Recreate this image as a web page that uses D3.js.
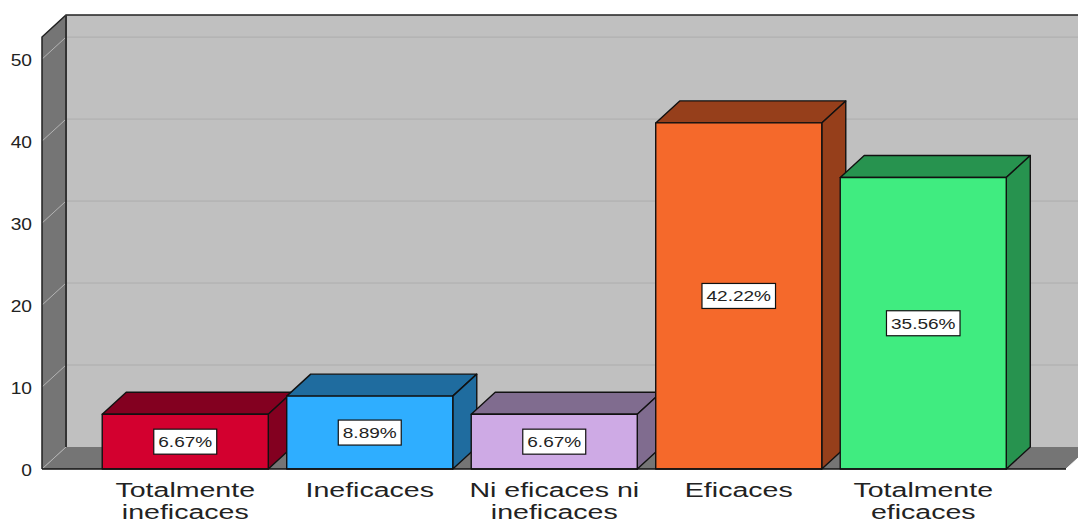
<!DOCTYPE html>
<html>
<head>
<meta charset="utf-8">
<script src="https://cdn.jsdelivr.net/npm/d3@7"></script>
<style>
  html, body { margin: 0; background: #fff; }
  svg { display: block; }
  text { font-family: 'Liberation Sans', Arial, sans-serif; fill: #222; }
</style>
</head>
<body>
<svg width="1078" height="523"></svg>
<script>
const categories = ['Totalmente\nineficaces', 'Ineficaces', 'Ni eficaces ni\nineficaces', 'Eficaces', 'Totalmente\neficaces'];
const percents = [6.67, 8.89, 6.67, 42.22, 35.56];
const yTicks = [0, 10, 20, 30, 40, 50];
const frontColors = ['#d3002f', '#2faeff', '#ceaae5', '#f5692b', '#40ec80'];
const topColors = ['#830020', '#1f6c9f', '#806c8f', '#963f1b', '#27934f'];

const svg = d3.select('svg');
const fontFamily = "'Liberation Sans', Arial, sans-serif";

// Depth of the 3D box
const depthX = 24;
const depthY = -22;

const margin = { left: 42, right: 1066, bottom: 469, top: 37 };

const xScale = d3
  .scaleBand()
  .domain(categories)
  .range([93, 1015.5])
  .paddingInner(0.1)
  .paddingOuter(0.05);

const yScale = d3
  .scaleLinear()
  .domain([0, 52.7])
  .range([margin.bottom, margin.top]);

const poly = (pts) => pts.map((p) => p.join(',')).join(' ');

// Back wall
svg.append('polygon')
  .attr('points', poly([
    [margin.left + depthX, margin.top + depthY],
    [margin.right + depthX, margin.top + depthY],
    [margin.right + depthX, margin.bottom + depthY],
    [margin.left + depthX, margin.bottom + depthY]
  ]))
  .attr('fill', '#c0c0c0');

// Left wall
svg.append('polygon')
  .attr('points', poly([
    [margin.left, margin.top],
    [margin.left + depthX, margin.top + depthY],
    [margin.left + depthX, margin.bottom + depthY],
    [margin.left, margin.bottom]
  ]))
  .attr('fill', '#757575');

// Floor
svg.append('polygon')
  .attr('points', poly([
    [margin.left, margin.bottom],
    [margin.left + depthX, margin.bottom + depthY],
    [margin.right + depthX, margin.bottom + depthY],
    [margin.right, margin.bottom]
  ]))
  .attr('fill', '#757575');

// Gridlines on the back wall and their continuation on the side wall
yTicks.forEach((t) => {
  const y = yScale(t);
  if (t > 0) {
    svg.append('line')
      .attr('x1', margin.left + depthX)
      .attr('x2', margin.right + depthX)
      .attr('y1', y + depthY)
      .attr('y2', y + depthY)
      .attr('stroke', '#adadad')
      .attr('stroke-width', 1);
  }
  svg.append('line')
    .attr('x1', margin.left)
    .attr('x2', margin.left + depthX)
    .attr('y1', y)
    .attr('y2', y + depthY)
    .attr('stroke', '#b4b4b4')
    .attr('stroke-width', 1);
});

// Box outline
svg.append('path')
  .attr('d', `M${margin.left},${margin.bottom} V${margin.top} L${margin.left + depthX},${margin.top + depthY} H${margin.right + depthX}`)
  .attr('fill', 'none')
  .attr('stroke', '#222')
  .attr('stroke-width', 1.5);
svg.append('line')
  .attr('x1', margin.left + depthX)
  .attr('x2', margin.left + depthX)
  .attr('y1', margin.top + depthY)
  .attr('y2', margin.bottom + depthY)
  .attr('stroke', '#333')
  .attr('stroke-width', 2);
svg.append('line')
  .attr('x1', margin.right)
  .attr('x2', margin.right + depthX)
  .attr('y1', margin.bottom)
  .attr('y2', margin.bottom + depthY)
  .attr('stroke', '#fff')
  .attr('stroke-width', 1);

// Bars, left to right so each front face covers the previous side face
const bars = svg.selectAll('g.bar')
  .data(percents)
  .enter()
  .append('g')
  .attr('class', 'bar')
  .attr('stroke', '#111')
  .attr('stroke-width', 1.4)
  .attr('stroke-linejoin', 'round');

const left = (d, i) => xScale(categories[i]);
const right = (d, i) => left(d, i) + xScale.bandwidth();

bars.append('polygon')
  .attr('points', (d, i) => poly([
    [left(d, i), yScale(d)],
    [left(d, i) + depthX, yScale(d) + depthY],
    [right(d, i) + depthX, yScale(d) + depthY],
    [right(d, i), yScale(d)]
  ]))
  .attr('fill', (d, i) => topColors[i]);

bars.append('polygon')
  .attr('points', (d, i) => poly([
    [right(d, i), yScale(d)],
    [right(d, i) + depthX, yScale(d) + depthY],
    [right(d, i) + depthX, yScale(0) + depthY],
    [right(d, i), yScale(0)]
  ]))
  .attr('fill', (d, i) => topColors[i]);

bars.append('rect')
  .attr('x', left)
  .attr('y', (d) => yScale(d))
  .attr('width', xScale.bandwidth())
  .attr('height', (d) => yScale(0) - yScale(d))
  .attr('fill', (d, i) => frontColors[i]);

// Baseline in front of everything
svg.append('line')
  .attr('x1', margin.left)
  .attr('x2', margin.right)
  .attr('y1', margin.bottom)
  .attr('y2', margin.bottom)
  .attr('stroke', '#111')
  .attr('stroke-width', 1.5);

// Value labels in the middle of each front face
const valueLabels = svg.selectAll('g.value')
  .data(percents)
  .enter()
  .append('g')
  .attr('class', 'value')
  .attr('transform', (d, i) => `translate(${left(d, i) + xScale.bandwidth() / 2},${(yScale(d) + yScale(0)) / 2})`);

// Text in this chart is set wide, so stretch it horizontally
const valueStretch = 1.27;

valueLabels.append('text')
  .attr('text-anchor', 'middle')
  .attr('dy', '0.36em')
  .attr('font-size', 15)
  .attr('transform', `scale(${valueStretch},1)`)
  .text((d) => `${d.toFixed(2)}%`);

// White box sized to its text, placed behind it
valueLabels.each(function () {
  const g = d3.select(this);
  const w = g.select('text').node().getComputedTextLength() * valueStretch + 9;
  g.insert('rect', 'text')
    .attr('x', -w / 2)
    .attr('y', -12.5)
    .attr('width', w)
    .attr('height', 25)
    .attr('fill', '#fff')
    .attr('stroke', '#111')
    .attr('stroke-width', 1.2);
});

// Left axis
const yAxis = svg.append('g')
  .attr('transform', `translate(${margin.left},0)`)
  .call(d3.axisLeft(yScale).tickValues(yTicks).tickSize(0));
yAxis.select('.domain').remove();
yAxis.selectAll('text')
  .attr('x', 0)
  .attr('font-size', 16)
  .attr('font-family', fontFamily)
  .attr('fill', '#222')
  .attr('transform', 'translate(-10,1.5) scale(1.2,1)');

// Bottom axis, labels broken over two lines
const xAxis = svg.append('g')
  .attr('transform', `translate(0,${margin.bottom})`)
  .call(d3.axisBottom(xScale).tickSize(0).tickFormat(''));
xAxis.select('.domain').remove();
xAxis.selectAll('.tick').each(function (d) {
  const label = d3.select(this).select('text')
    .attr('y', 0)
    .attr('dy', null)
    .attr('font-size', 21)
    .attr('font-family', fontFamily)
    .attr('fill', '#222')
    .attr('transform', 'scale(1.36,1)');
  d.split('\n').forEach((line, i) => {
    label.append('tspan')
      .attr('x', 0)
      .attr('y', 28.5 + i * 22)
      .text(line);
  });
});
</script>
</body>
</html>
